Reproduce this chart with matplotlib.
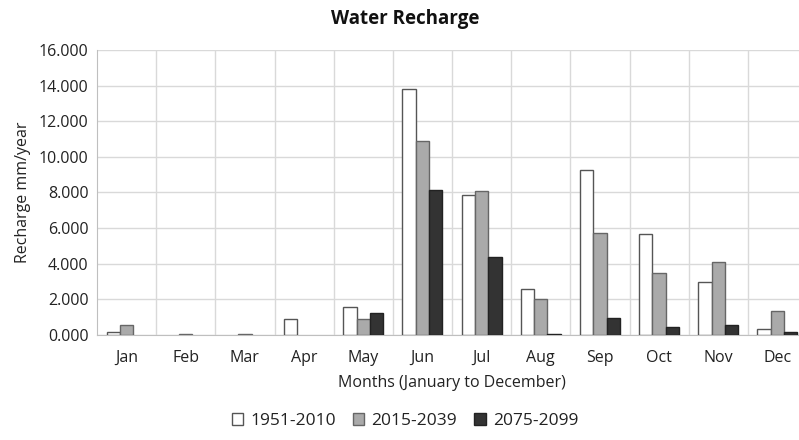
import numpy as np
import matplotlib.pyplot as plt
from matplotlib.patches import Patch

months = ["Jan", "Feb", "Mar", "Apr", "May", "Jun", "Jul", "Aug", "Sep", "Oct", "Nov", "Dec"]
series_names = ["1951-2010", "2015-2039", "2075-2099"]
recharge_1951_2010 = [0.15, 0.0, 0.0, 0.92, 1.58, 13.81, 7.86, 2.61, 9.26, 5.67, 3.00, 0.36]
recharge_2015_2039 = [0.54, 0.08, 0.05, 0.0, 0.92, 10.90, 8.08, 2.02, 5.71, 3.49, 4.09, 1.33]
recharge_2075_2099 = [0.0, 0.0, 0.0, 0.0, 1.23, 8.12, 4.39, 0.05, 0.93, 0.47, 0.56, 0.15]
y_ticks = [0, 2, 4, 6, 8, 10, 12, 14, 16]

face_colors = ["#ffffff", "#aaaaaa", "#333333"]
edge_colors = ["#555555", "#666666", "#222222"]
text_color = "#222222"

plt.rcParams["font.family"] = ["Open Sans", "DejaVu Sans"]

fig = plt.figure(figsize=(7.99, 4.40), dpi=100)
ax = fig.add_axes([97 / 799, 1 - 335 / 440, 710 / 799, 285 / 440])

x = np.arange(len(months))
width = 0.225
series = [recharge_1951_2010, recharge_2015_2039, recharge_2075_2099]
for i, vals in enumerate(series):
    # empty months get no outline so nothing shows on the baseline
    lw = [1.0 if v > 0 else 0.0 for v in vals]
    ax.bar(x + (i - 1) * width, vals, width, color=face_colors[i],
           edgecolor=edge_colors[i], linewidth=lw, zorder=3,
           label=series_names[i])

ax.set_xlim(-0.5, len(months) - 0.5)
ax.set_ylim(0, 16)
ax.set_yticks(y_ticks)
ax.set_yticklabels([f"{v:.3f}" for v in y_ticks], fontsize=11.5, color=text_color)
ax.set_xticks(x)
ax.set_xticklabels(months, fontsize=11.5, color=text_color)
ax.tick_params(axis="y", length=0, pad=6)
ax.tick_params(axis="x", length=0, pad=11)

# horizontal gridlines at the value ticks, vertical ones between months
ax.grid(axis="y", color="#d9d9d9", linewidth=1.0, zorder=0)
for b in np.arange(0.5, len(months) - 0.5, 1.0):
    ax.axvline(b, color="#d9d9d9", linewidth=1.0, zorder=0)

for side in ["top", "right"]:
    ax.spines[side].set_visible(False)
ax.spines["left"].set_color("#bfbfbf")
ax.spines["bottom"].set_color("#bfbfbf")

ax.set_ylabel("Recharge mm/year", fontsize=11.5, color=text_color, labelpad=6)
ax.set_xlabel("Months (January to December)", fontsize=11.5, color=text_color, labelpad=6)
fig.text(405 / 799, 1 - 19 / 440, "Water Recharge", ha="center", va="center",
         fontsize=13.5, fontweight="bold", color="#111111")

handles = [Patch(facecolor=face_colors[i], edgecolor=edge_colors[i], label=series_names[i])
           for i in range(3)]
fig.legend(handles=handles, loc="center", bbox_to_anchor=(405 / 799, 1 - 421 / 440),
           ncol=3, frameon=False, fontsize=12.5, handlelength=0.65, handleheight=0.65,
           handletextpad=0.4, columnspacing=1.0, labelcolor=text_color)

fig.savefig("out.png", dpi=100)
